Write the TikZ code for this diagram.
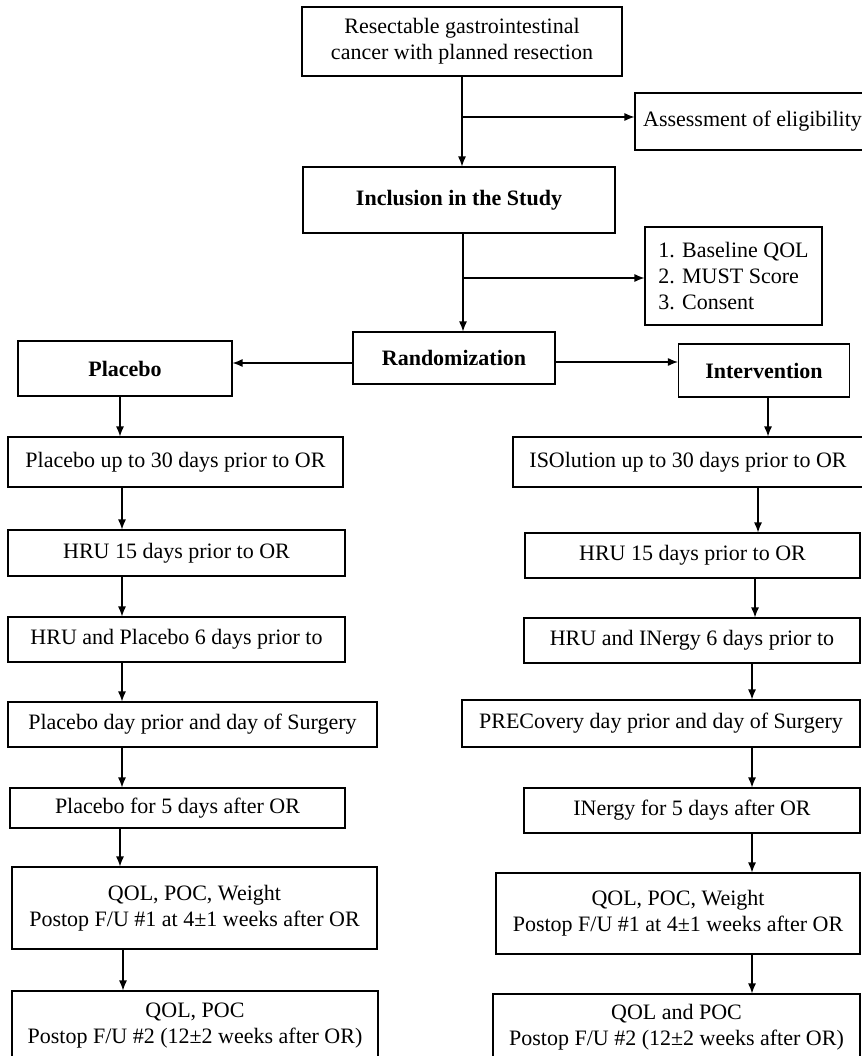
\documentclass[tikz,border=0pt]{standalone}
\usepackage{fontspec}
\setmainfont{Liberation Serif}
\usepackage{tikz}
\usetikzlibrary{arrows.meta}

\begin{document}
\begin{tikzpicture}[x=1pt, y=-1pt, ->, >={Latex[length=10pt, width=8pt]}, line width=1.2pt,
	box/.style={draw, line width=1.1pt, align=center, inner sep=2pt, font=\fontsize{22}{26}\selectfont},
	bbox/.style={box, font=\fontsize{22}{26}\selectfont\bfseries}]
		\useasboundingbox (0,0) rectangle (861,1056);
		
		\node[box, minimum width=320pt, minimum height=69pt] (top) at (462, 41.5) {Resectable gastrointestinal\\cancer with planned resection};
		\node[box, minimum width=235pt, minimum height=57pt] (assess) at (752.5, 121.5) {Assessment of eligibility};
		\node[bbox, minimum width=312pt, minimum height=66pt] (incl) at (459, 200) {Inclusion in the Study};
		\node[box, align=left, minimum width=177pt, minimum height=98pt] (base) at (733.5, 276) {1. Baseline QOL\\2. MUST Score\\3. Consent};
		\node[bbox, minimum width=202pt, minimum height=52pt] (rand) at (454, 358) {Randomization};
		\node[bbox, minimum width=214pt, minimum height=55pt] (plac) at (125, 368.5) {Placebo};
		\node[bbox, minimum width=171pt, minimum height=53pt] (interv) at (764, 370.5) {Intervention};
		
		\coordinate (j1) at (462, 117);
		\coordinate (j2) at (463, 278);
		\draw (top.south -| j1) -- (incl.north -| j1);
		\draw (j1) -- (j1 -| assess.west);
		\draw (incl.south -| j2) -- (rand.north -| j2);
		\draw (j2) -- (j2 -| base.west);
		\draw ([yshift=-5pt]rand.west) -- ([yshift=-5pt]rand.west -| plac.east);
		\draw ([yshift=-4pt]rand.east) -- ([yshift=-4pt]rand.east -| interv.west);
		
		% placebo arm
		\node[box, minimum width=335pt, minimum height=50pt] (l1) at (175.5, 462) {Placebo up to 30 days prior to OR};
		\node[box, minimum width=337pt, minimum height=46pt] (l2) at (176.5, 553) {HRU 15 days prior to OR};
		\node[box, minimum width=337pt, minimum height=45pt] (l3) at (176.5, 639.5) {HRU and Placebo 6 days prior to};
		\node[box, minimum width=369pt, minimum height=45pt] (l4) at (192.5, 724.5) {Placebo day prior and day of Surgery};
		\node[box, minimum width=335pt, minimum height=40pt] (l5) at (177.5, 808) {Placebo for 5 days after OR};
		\node[box, minimum width=365pt, minimum height=82pt] (l6) at (194.5, 908) {QOL, POC, Weight\\Postop F/U \#1 at 4±1 weeks after OR};
		\node[box, minimum width=366pt, minimum height=69pt] (l7) at (195, 1025.5) {QOL, POC\\Postop F/U \#2 (12±2 weeks after OR)};
		
		\draw (plac.south -| 120,0) -- (l1.north -| 120,0);
		\draw (l1.south -| 122,0) -- (l2.north -| 122,0);
		\draw (l2.south -| 122,0) -- (l3.north -| 122,0);
		\draw (l3.south -| 122,0) -- (l4.north -| 122,0);
		\draw (l4.south -| 122,0) -- (l5.north -| 122,0);
		\draw (l5.south -| 120,0) -- (l6.north -| 120,0);
		\draw (l6.south -| 123,0) -- (l7.north -| 123,0);
		
		% intervention arm
		\node[box, minimum width=350pt, minimum height=50pt] (r1) at (688, 462) {ISOlution up to 30 days prior to OR};
		\node[box, minimum width=335pt, minimum height=45pt] (r2) at (692.5, 555.5) {HRU 15 days prior to OR};
		\node[box, minimum width=336pt, minimum height=45pt] (r3) at (692, 640.5) {HRU and INergy 6 days prior to};
		\node[box, minimum width=398pt, minimum height=47pt] (r4) at (661, 723.5) {PRECovery day prior and day of Surgery};
		\node[box, minimum width=336pt, minimum height=45pt] (r5) at (692, 810.5) {INergy for 5 days after OR};
		\node[box, minimum width=364pt, minimum height=81pt] (r6) at (678, 913.5) {QOL, POC, Weight\\Postop F/U \#1 at 4±1 weeks after OR};
		\node[box, minimum width=367pt, minimum height=66pt] (r7) at (676.5, 1027) {QOL and POC\\Postop F/U \#2 (12±2 weeks after OR)};
		
		\draw (interv.south -| 768,0) -- (r1.north -| 768,0);
		\draw (r1.south -| 758,0) -- (r2.north -| 758,0);
		\draw (r2.south -| 755,0) -- (r3.north -| 755,0);
		\draw (r3.south -| 752,0) -- (r4.north -| 752,0);
		\draw (r4.south -| 752,0) -- (r5.north -| 752,0);
		\draw (r5.south -| 752,0) -- (r6.north -| 752,0);
		\draw (r6.south -| 752,0) -- (r7.north -| 752,0);
		
	\end{tikzpicture}
\end{document}
